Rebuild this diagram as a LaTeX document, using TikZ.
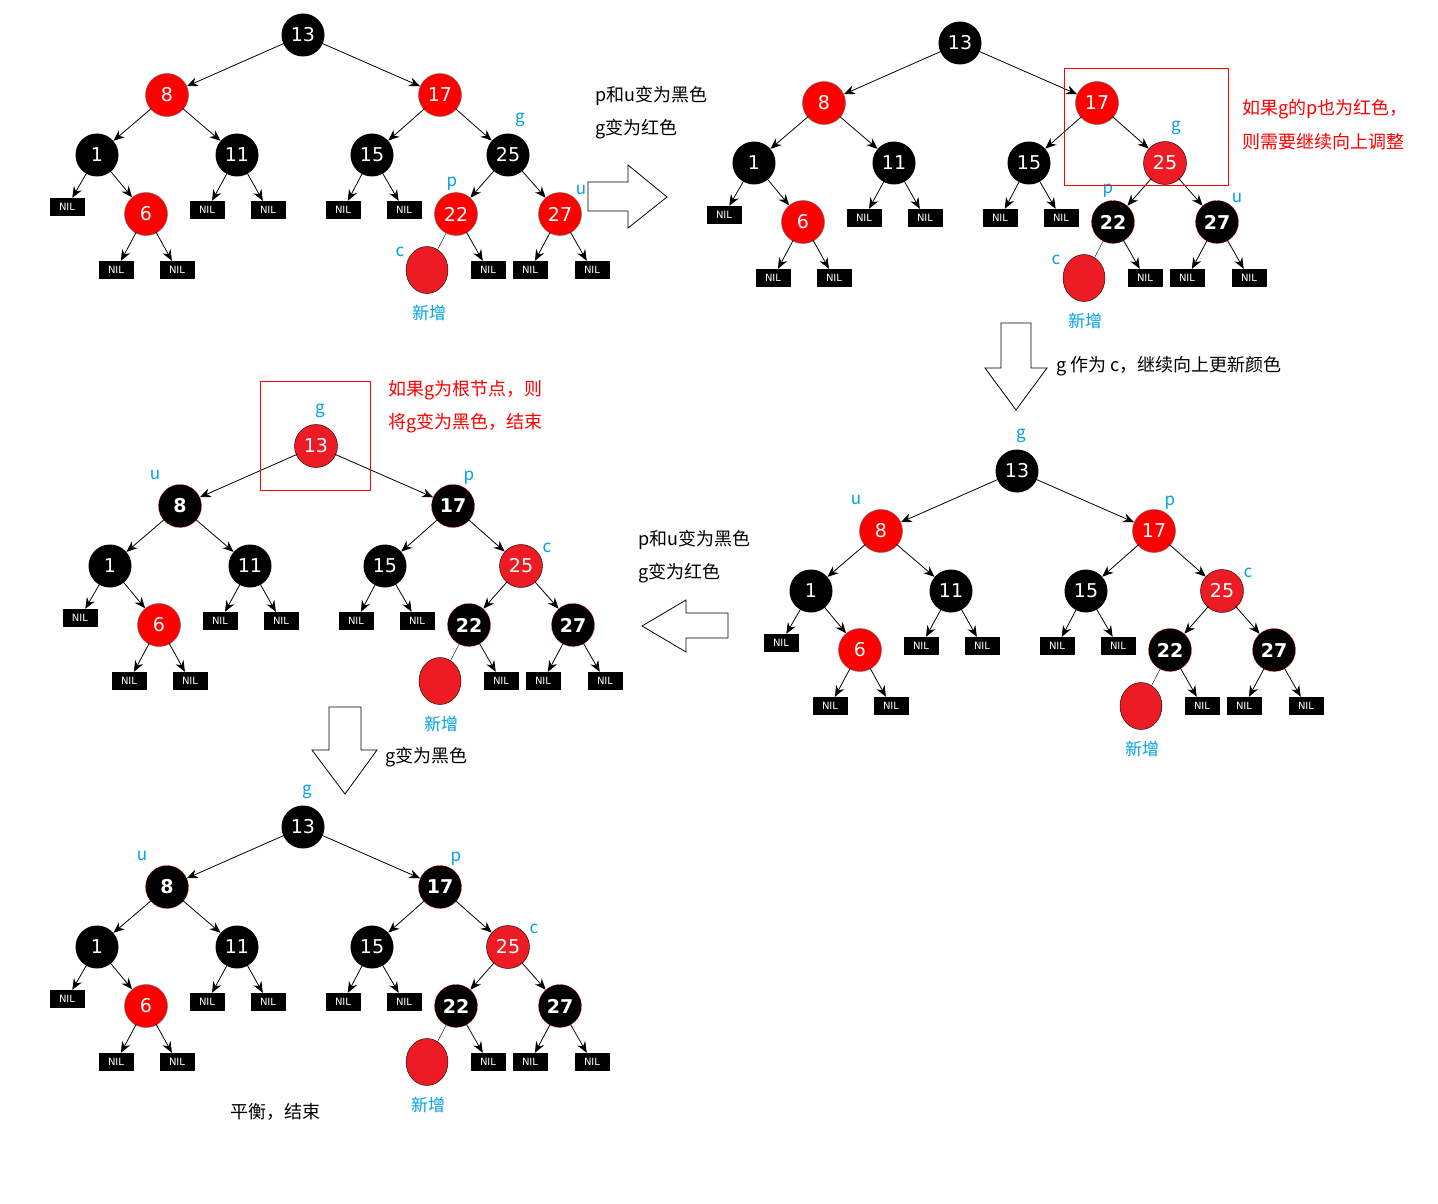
\documentclass[tikz,border=0pt]{standalone}
\usepackage{fontspec}
\setmainfont{Noto Sans CJK SC}
\newfontfamily\numfam{DejaVu Sans}
\usetikzlibrary{arrows.meta,shapes.geometric}
\definecolor{rr}{RGB}{237,28,36}
\definecolor{lb}{RGB}{0,162,232}
\tikzset{
 nd/.style={circle,minimum size=43pt,inner sep=0pt,font=\numfam\fontsize{19}{19}\selectfont},
 B/.style={nd,fill=black,text=white},
 R/.style={nd,fill=red,draw=black!60,text=white},
 RR/.style={nd,fill=rr,draw=black,text=white},
 RB/.style={nd,fill=black,draw=red,densely dashed,text=white,font=\numfam\bfseries\fontsize{19}{19}\selectfont},
 nil/.style={fill=black,text=white,minimum width=35pt,minimum height=18pt,inner sep=0pt,font=\numfam\fontsize{10}{10}\selectfont},
 newn/.style={ellipse,fill=rr,draw=black,minimum width=42pt,minimum height=47pt,inner sep=0pt},
 ed/.style={-{Stealth[length=11pt,width=9pt]},thick,shorten <=-1pt},
 lbl/.style={text=lb,font=\fontsize{17}{17}\selectfont},
 txt/.style={anchor=west,font=\fontsize{18}{18}\selectfont},
 rtxt/.style={txt,text=red},
 blk/.style={draw=black,fill=white,line width=0.8pt},
 redbox/.style={draw=red,line width=0.8pt}
}
\newcommand\rbtree[9]{%
\begin{scope}[shift={(#2,#3)}]
\node[#4] (#1a) at (303,35) {13};
\node[#5] (#1b) at (167,95) {8};
\node[#6] (#1c) at (440,95) {17};
\node[B] (#1d) at (97,155) {1};
\node[B] (#1e) at (237,155) {11};
\node[B] (#1f) at (372,155) {15};
\node[#7] (#1g) at (508,155) {25};
\node[nil] (#1h) at (67,207) {NIL};
\node[R] (#1i) at (146,214) {6};
\node[nil] (#1j) at (207,210) {NIL};
\node[nil] (#1k) at (268,210) {NIL};
\node[nil] (#1l) at (343,210) {NIL};
\node[nil] (#1m) at (404,210) {NIL};
\node[#8] (#1n) at (456,214) {22};
\node[#9] (#1o) at (560,214) {27};
\node[nil] (#1p) at (116,270) {NIL};
\node[nil] (#1q) at (177,270) {NIL};
\node[newn] (#1r) at (427,270) {};
\node[nil] (#1s) at (488,270) {NIL};
\node[nil] (#1t) at (530,270) {NIL};
\node[nil] (#1u) at (592,270) {NIL};
\draw[ed] (#1a)--(#1b); \draw[ed] (#1a)--(#1c);
\draw[ed] (#1b)--(#1d); \draw[ed] (#1b)--(#1e);
\draw[ed] (#1c)--(#1f); \draw[ed] (#1c)--(#1g);
\draw[ed] (#1d)--(#1h); \draw[ed] (#1d)--(#1i);
\draw[ed] (#1e)--(#1j); \draw[ed] (#1e)--(#1k);
\draw[ed] (#1f)--(#1l); \draw[ed] (#1f)--(#1m);
\draw[ed] (#1g)--(#1n); \draw[ed] (#1g)--(#1o);
\draw[ed] (#1i)--(#1p); \draw[ed] (#1i)--(#1q);
\draw[ed] (#1n)--(#1s);
\draw[ed] (#1o)--(#1t); \draw[ed] (#1o)--(#1u);
\draw[thin] (#1n)--(#1r);
\end{scope}}
\begin{document}
\begin{tikzpicture}[x=1pt,y=-1pt]
\useasboundingbox[fill=white] (0,0) rectangle (1438,1204);
\rbtree{A}{0}{0}{B}{R}{R}{B}{R}{R}
\rbtree{C}{657}{8}{B}{R}{R}{RR}{RB}{RB}
\rbtree{D}{13}{411}{RR}{RB}{RB}{RR}{RB}{RB}
\rbtree{E}{714}{436}{B}{R}{R}{RR}{RB}{RB}
\rbtree{F}{0}{792}{B}{RB}{RB}{RR}{RB}{RB}
% labels tree A
\node[lbl] at (520,120) {g}; \node[lbl] at (452,184) {p}; \node[lbl] at (581,190) {u}; \node[lbl] at (400,252) {c}; \node[lbl] at (429,313) {新增};
% tree C
\node[lbl] at (1176,128) {g}; \node[lbl] at (1108,191) {p}; \node[lbl] at (1237,198) {u}; \node[lbl] at (1056,260) {c}; \node[lbl] at (1085,321) {新增};
% tree D
\node[lbl] at (320,411) {g}; \node[lbl] at (155,475) {u}; \node[lbl] at (469,478) {p}; \node[lbl] at (547,548) {c}; \node[lbl] at (441,724) {新增};
% tree E
\node[lbl] at (1021,436) {g}; \node[lbl] at (856,500) {u}; \node[lbl] at (1170,503) {p}; \node[lbl] at (1248,573) {c}; \node[lbl] at (1142,749) {新增};
% tree F
\node[lbl] at (307,792) {g}; \node[lbl] at (142,856) {u}; \node[lbl] at (456,859) {p}; \node[lbl] at (534,929) {c}; \node[lbl] at (428,1105) {新增};
% red boxes
\draw[redbox] (1064,68) rectangle (1228,185);
\draw[redbox] (260,381) rectangle (370,490);
% block arrows
\draw[blk] (588,182)--(628,182)--(628,165)--(667,197)--(628,228)--(628,211)--(588,211)--cycle;
\draw[blk] (1001,323)--(1031,323)--(1031,368)--(1047,368)--(1016,410)--(985,368)--(1001,368)--cycle;
\draw[blk] (728,613)--(686,613)--(686,600)--(642,626)--(686,652)--(686,638)--(728,638)--cycle;
\draw[blk] (329,707)--(361,707)--(361,750)--(377,750)--(345,794)--(312,750)--(329,750)--cycle;
% texts
\node[txt] at (592,96) {p和u变为黑色};
\node[txt] at (592,129) {g变为红色};
\node[rtxt] at (1239,109) {如果g的p也为红色，};
\node[rtxt] at (1239,142) {则需要继续向上调整};
\node[txt] at (1053,366) {g 作为 c，继续向上更新颜色};
\node[rtxt] at (385,390) {如果g为根节点，则};
\node[rtxt] at (385,423) {将g变为黑色，结束};
\node[txt] at (635,540) {p和u变为黑色};
\node[txt] at (635,573) {g变为红色};
\node[txt] at (382,757) {g变为黑色};
\node[txt] at (227,1112) {平衡，结束};
\end{tikzpicture}
\end{document}
